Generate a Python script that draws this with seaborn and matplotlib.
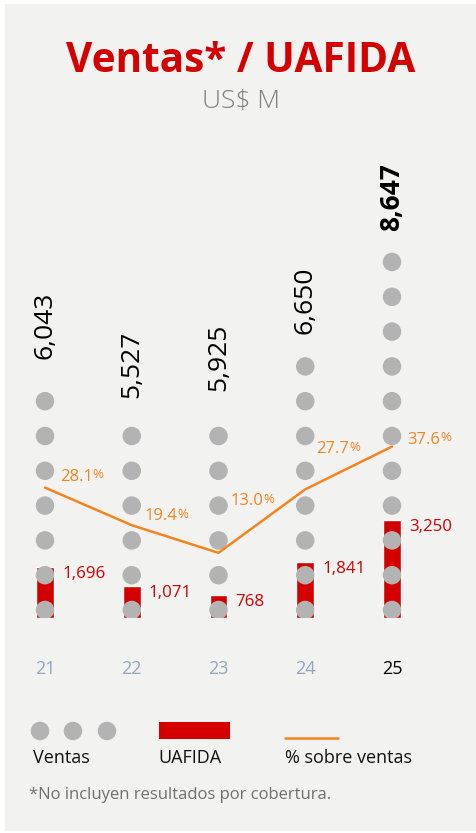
import matplotlib.pyplot as plt
import seaborn as sns
import pandas as pd
from matplotlib.patches import Rectangle

# Data
years = ["21", "22", "23", "24", "25"]
ventas = [6043, 5527, 5925, 6650, 8647]
ventas_dots = [7, 6, 6, 8, 11]
uafida = [1696, 1071, 768, 1841, 3250]
margen = [28.1, 19.4, 13.0, 27.7, 37.6]

# Colours
BG = "#f2f2f1"
RED = "#d40000"
GRAY = "#b3b3b3"
ORANGE = "#f5841f"
YEAR_GRAY = "#93a5bb"

sns.set_theme(style="white")
plt.rcParams["font.family"] = ["Open Sans", "DejaVu Sans"]

W, H = 477, 833
fig = plt.figure(figsize=(W / 100, H / 100), dpi=100)
fig.patch.set_facecolor("white")
fig.add_artist(Rectangle((5 / W, 2 / H), 472 / W, 827 / H, transform=fig.transFigure,
                         facecolor=BG, edgecolor="none", zorder=0))

# main axes: bottom at y=618px, top at y=140px
base_px, top_px = 618, 140
px_units = 33.0          # UAFIDA units per pixel
step_x = 86.75           # pixels between columns
ax = fig.add_axes([0, (H - base_px) / H, 1, (base_px - top_px) / H])
ax.patch.set_alpha(0)

pos = list(range(len(years)))

# dots for ventas
dot0 = 8 * px_units
dstep = 34.8 * px_units
dots = pd.DataFrame(
    [(i, dot0 + k * dstep) for i, n in enumerate(ventas_dots) for k in range(n)],
    columns=["pos", "y"],
)

sns.barplot(x=pos, y=uafida, native_scale=True, width=0.207, color=RED,
            saturation=1, ax=ax, zorder=2)
sns.scatterplot(data=dots, x="pos", y="y", s=178, color=GRAY, edgecolor="none",
                linewidth=0, legend=False, ax=ax, zorder=3)

ax.set_xlim(-45 / step_x, (W - 45) / step_x)
ax.set_ylim(0, (base_px - top_px) * px_units)
ax.set_xticks(pos, years)
ax.set_yticks([])
ax.set_xlabel("")
ax.set_ylabel("")
ax.tick_params(axis="x", length=0, pad=30, labelsize=13)
for lbl, c in zip(ax.get_xticklabels(), [YEAR_GRAY] * 4 + ["black"]):
    lbl.set_color(c)
for s in ax.spines.values():
    s.set_visible(False)

# ventas labels (rotated), gap above top dot in pixels
label_gaps = [42, 38, 45, 32, 31]
for i, (v, n) in enumerate(zip(ventas, ventas_dots)):
    ax.annotate(f"{v:,}", xy=(i, dot0 + (n - 1) * dstep), xytext=(0, label_gaps[i]),
                textcoords="offset pixels", rotation=90, ha="center", va="bottom",
                fontsize=19, color="black",
                fontweight="bold" if i == len(years) - 1 else "normal")

# uafida labels
for i, u in enumerate(uafida):
    ax.annotate(f"{u:,}", xy=(i, u), xytext=(17, -7), textcoords="offset pixels",
                ha="left", va="center", fontsize=12.2, color=RED)

# % sobre ventas on twin axis
ax2 = ax.twinx()
ax2.patch.set_alpha(0)
pct_px = 4.32
zero_px = 609
ax2.set_ylim(-(base_px - zero_px) / pct_px, (zero_px - top_px) / pct_px)
sns.lineplot(x=pos, y=margen, color=ORANGE, linewidth=1.8, ax=ax2)
ax2.set_yticks([])
ax2.set_ylabel("")
for s in ax2.spines.values():
    s.set_visible(False)

pct_offsets = [(15, 11), (13, 9), (12, 52), (11, 40), (15, 7)]
for i, (m, off) in enumerate(zip(margen, pct_offsets)):
    t = ax2.annotate(f"{m:.1f}", xy=(i, m), xytext=off, textcoords="offset pixels",
                     ha="left", va="center", fontsize=12, color=ORANGE)
    ax2.annotate("%", xy=(1, 0.2), xycoords=t, ha="left", va="bottom",
                 fontsize=9.5, color=ORANGE)

# titles
fig.text(241 / W, 1 - 72 / H, "Ventas* / UAFIDA", ha="center", va="baseline",
         fontsize=29.2, fontweight="bold", color=RED)
fig.text(241 / W, 1 - 108 / H, "US$ M", ha="center", va="baseline",
         fontsize=19, fontweight="light", color="#808080")

# legend drawn in pixel coordinates
lax = fig.add_axes([0, 0, 1, 1])
lax.set_xlim(0, W)
lax.set_ylim(H, 0)
lax.axis("off")
lax.scatter([40, 73, 107], [731, 731, 731], s=178, color=GRAY, edgecolor="none")
lax.add_patch(Rectangle((159, 722), 71, 17, facecolor=RED, edgecolor="none"))
lax.plot([285, 338], [738, 738], color=ORANGE, linewidth=1.8)
lax.text(33, 758, "Ventas", va="center", ha="left", fontsize=13, color="#111111")
lax.text(158, 758, "UAFIDA", va="center", ha="left", fontsize=13, color="#111111")
lax.text(285, 758, "% sobre ventas", va="center", ha="left", fontsize=13, color="#111111")
lax.text(29, 795, "*No incluyen resultados por cobertura.", va="center", ha="left",
         fontsize=12, color="#707070")

fig.savefig("out.png", dpi=100)
